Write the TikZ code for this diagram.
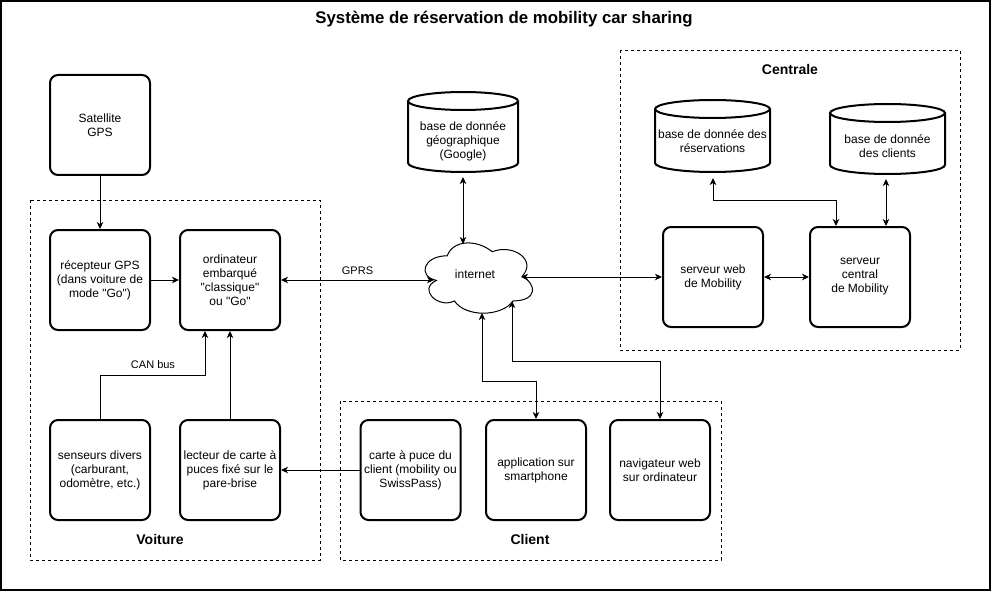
\documentclass[tikz,border=0pt]{standalone}
\usepackage{fontspec}
\setmainfont{Liberation Sans}[Ligatures=TeXOff]
\usetikzlibrary{arrows.meta}
\begin{document}
\begin{tikzpicture}[x=1pt,y=-1pt,
  mybox/.style={draw, line width=2pt, rounded corners=8pt, minimum width=100pt, minimum height=100pt, inner sep=1pt, align=center, font=\fontsize{12}{14}\selectfont},
  cyl/.style={line width=2pt},
  txt/.style={align=center, inner sep=1pt, font=\fontsize{12}{14}\selectfont},
  lab/.style={inner sep=1pt, font=\fontsize{11}{13}\selectfont},
  grp/.style={draw, dash pattern=on 3pt off 3pt, line width=0.8pt},
  grplab/.style={inner sep=1pt, font=\bfseries\fontsize{14}{16}\selectfont},
  tip/.tip={Stealth[length=7pt,width=6.5pt,inset=2pt]},
  arr/.style={line width=0.9pt, -tip},
  arrb/.style={line width=0.9pt, tip-tip}]
\useasboundingbox (0,0) rectangle (991,591);
\draw[line width=1.5pt] (1,1) rectangle (990,590);

% title
\node[inner sep=1pt, font=\bfseries\fontsize{16.8}{19}\selectfont] (title) at (504,19) {Système de réservation de mobility car sharing};

% groups
\draw[grp] (30,200) rectangle (320,560);
\draw[grp] (340,401) rectangle (721,560);
\draw[grp] (620,50) rectangle (960,350);
\node[grplab] (lvoit) at (160,539) {Voiture};
\node[grplab] (lclient) at (530,539) {Client};
\node[grplab] (lcentr) at (790,69) {Centrale};

% boxes
\node[mybox] (sat) at (100,125) {Satellite\\GPS};
\node[mybox] (rec) at (100,280) {récepteur GPS\\(dans voiture de\\mode "Go")};
\node[mybox] (ordi) at (230,280) {ordinateur\\embarqué\\"classique"\\ou "Go"};
\node[mybox] (sens) at (100,470) {senseurs divers\\(carburant,\\odomètre, etc.)};
\node[mybox] (lect) at (230,470) {lecteur de carte à\\puces fixé sur le\\pare-brise};
\node[mybox] (carte) at (410.5,470) {carte à puce du\\client (mobility ou\\SwissPass)};
\node[mybox] (app) at (536,470) {application sur\\smartphone};
\node[mybox] (nav) at (660,470) {navigateur web\\sur ordinateur};
\node[mybox] (web) at (713,277) {serveur web\\de Mobility};
\node[mybox] (central) at (860,277) {serveur\\central\\de Mobility};

% cylinders
\draw[cyl] (408,101) -- (408,163) arc[start angle=180,end angle=360,x radius=55pt,y radius=9pt] -- (518,101);
\draw[cyl] (463,101) ellipse[x radius=55pt, y radius=9pt];
\node[txt] (geo) at (463,141) {base de donnée\\géographique\\(Google)};
\coordinate (geob) at (463,177);

\draw[cyl] (655,109) -- (655,163) arc[start angle=180,end angle=360,x radius=57.5pt,y radius=9pt] -- (770,109);
\draw[cyl] (712.5,109) ellipse[x radius=57.5pt, y radius=9pt];
\node[txt] (resa) at (712.5,141.5) {base de donnée des\\réservations};
\coordinate (resab) at (713,178);

\draw[cyl] (830,113) -- (830,165) arc[start angle=180,end angle=360,x radius=57.5pt,y radius=9pt] -- (945,113);
\draw[cyl] (887.5,113) ellipse[x radius=57.5pt, y radius=9pt];
\node[txt] (cli) at (887.5,146) {base de donnée\\des clients};
\coordinate (clib) at (886,179);

% cloud
\begin{scope}[shift={(417.2pt,-235.3pt)}, x=120pt, y=-82pt]
\draw[line width=1pt] (0.25,0.25) .. controls (0.05,0.25) and (0,0.5) .. (0.16,0.55)
  .. controls (0,0.66) and (0.18,0.9) .. (0.31,0.8)
  .. controls (0.4,1) and (0.7,1) .. (0.8,0.8)
  .. controls (1,0.8) and (1,0.6) .. (0.875,0.5)
  .. controls (1,0.3) and (0.8,0.1) .. (0.625,0.2)
  .. controls (0.5,0.05) and (0.3,0.05) .. (0.25,0.25) -- cycle;
\end{scope}
\node[txt] (inet) at (475,274) {internet};
\coordinate (ct) at (463,244);
\coordinate (cl) at (434,280);
\coordinate (cr) at (521,277);
\coordinate (cb1) at (482,313);
\coordinate (cb2) at (512,301);

% connectors
\draw[arr] (sat.south) -- (rec.north);
\draw[arr] (rec.east) -- (ordi.west);
\draw[arrb] (ordi.east) -- node[lab, above=4pt] (gprs) {GPRS} (cl);
\draw[arrb] (geob) -- (ct);
\draw[arrb] (cr) -- (web.west);
\draw[arrb] (web.east) -- (central.west);
\draw[arrb] (resab) -- ++(0,22) -| ([xshift=27pt]central.north west);
\draw[arrb] (clib) -- ([xshift=77pt]central.north west);
\draw[arr] (sens.north) -- ++(0,-44) -| ([xshift=26pt]ordi.south west);
\node[lab] (canbus) at (153,365) {CAN bus};
\draw[arr] (lect.north) -- (ordi.south);
\draw[arr] (carte.west) -- (lect.east);
\draw[arrb] (cb1) -- ++(0,68) -| (app.north);
\draw[arrb] (cb2) -- ++(0,60) -| (nav.north);
\end{tikzpicture}
\end{document}
